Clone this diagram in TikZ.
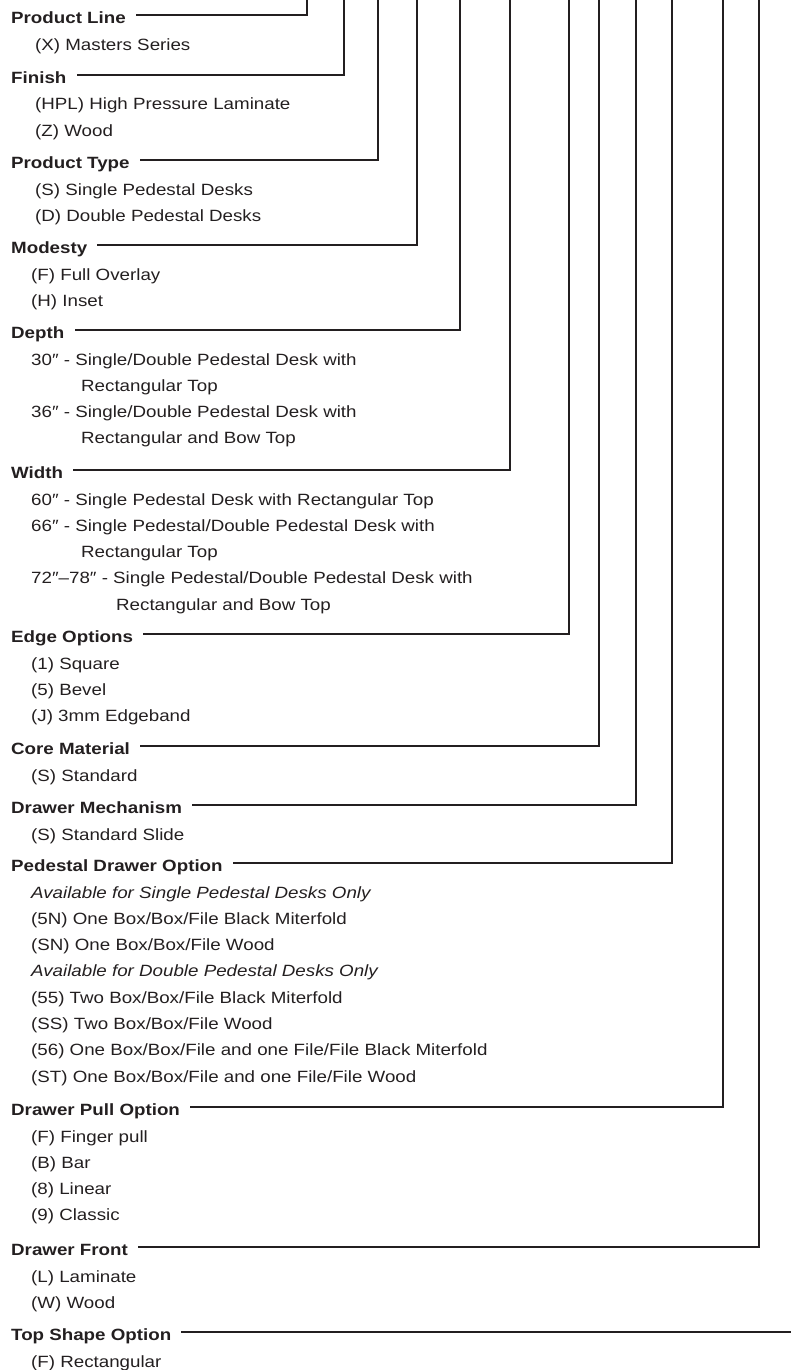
\documentclass[tikz,border=0pt]{standalone}
\usepackage{fontspec}
\setmainfont{Liberation Sans}[FakeStretch=1.15]
\usetikzlibrary{calc}
\definecolor{ink}{HTML}{231F20}
\tikzset{
  hdr/.style={anchor=base west, inner sep=0pt, font=\bfseries, text=ink},
  itm/.style={anchor=base west, inner sep=0pt, text=ink},
  note/.style={itm, font=\itshape},
  lead/.style={draw=ink, line width=2pt, line join=miter, line cap=rect},
}
\begin{document}
\begin{tikzpicture}[x=1pt,y=-1pt]
\fontsize{16.3}{20}\selectfont
\useasboundingbox (0,0) rectangle (791,1370);
% top ends of the leader lines
\coordinate (t1) at (307,-2);
\coordinate (t2) at (344,-2);
\coordinate (t3) at (378,-2);
\coordinate (t4) at (417,-2);
\coordinate (t5) at (460,-2);
\coordinate (t6) at (510,-2);
\coordinate (t7) at (569,-2);
\coordinate (t8) at (599,-2);
\coordinate (t9) at (636,-2);
\coordinate (t10) at (672,-2);
\coordinate (t11) at (723,-2);
\coordinate (t12) at (759,-2);
\coordinate (t13) at (795,1332);
% headers
\node[hdr] (h1) at (11,24) {Product Line};
\node[hdr] (h2) at (11,83.5) {Finish};
\node[hdr] (h3) at (11,168.5) {Product Type};
\node[hdr] (h4) at (11,253.5) {Modesty};
\node[hdr] (h5) at (11,338.5) {Depth};
\node[hdr] (h6) at (11,478.5) {Width};
\node[hdr] (h7) at (11,642.5) {Edge Options};
\node[hdr] (h8) at (11,754.5) {Core Material};
\node[hdr] (h9) at (11,813.5) {Drawer Mechanism};
\node[hdr] (h10) at (11,871.5) {Pedestal Drawer Option};
\node[hdr] (h11) at (11,1115.5) {Drawer Pull Option};
\node[hdr] (h12) at (11,1255.5) {Drawer Front};
\node[hdr] (h13) at (11,1340.5) {Top Shape Option};
% leaders
\foreach \i in {1,...,12}{
  \draw[lead] ($(h\i.base east)+(11,-8.5)$) -| (t\i);
}
\coordinate (s13) at ($(h13.base east)+(11,-8.5)$);
\draw[lead] (s13) -- (s13 -| t13);
% items
\node[itm] (a1) at (35,50.5) {(X) Masters Series};
\node[itm] (b1) at (35,110) {(HPL) High Pressure Laminate};
\node[itm] (b2) at (35,136.3) {(Z) Wood};
\node[itm] (c1) at (35,195) {(S) Single Pedestal Desks};
\node[itm] (c2) at (35,221.3) {(D) Double Pedestal Desks};
\node[itm] (d1) at (31,280) {(F) Full Overlay};
\node[itm] (d2) at (31,306.3) {(H) Inset};
\node[itm] (e1) at (31,365) {30″ - Single/Double Pedestal Desk with};
\node[itm] (e2) at (81,391.3) {Rectangular Top};
\node[itm] (e3) at (31,417.6) {36″ - Single/Double Pedestal Desk with};
\node[itm] (e4) at (81,443.9) {Rectangular and Bow Top};
\node[itm] (f1) at (31,505) {60″ - Single Pedestal Desk with Rectangular Top};
\node[itm] (f2) at (31,531.3) {66″ - Single Pedestal/Double Pedestal Desk with};
\node[itm] (f3) at (81,557.6) {Rectangular Top};
\node[itm] (f4) at (31,583.9) {72″–78″ - Single Pedestal/Double Pedestal Desk with};
\node[itm] (f5) at (116,610.2) {Rectangular and Bow Top};
\node[itm] (g1) at (31,669) {(1) Square};
\node[itm] (g2) at (31,695.3) {(5) Bevel};
\node[itm] (g3) at (31,721.6) {(J) 3mm Edgeband};
\node[itm] (k1) at (31,781) {(S) Standard};
\node[itm] (m1) at (31,840) {(S) Standard Slide};
\node[note] (n1) at (31,898) {Available for Single Pedestal Desks Only};
\node[itm] (n2) at (31,924.3) {(5N) One Box/Box/File Black Miterfold};
\node[itm] (n3) at (31,950.6) {(SN) One Box/Box/File Wood};
\node[note] (n4) at (31,976.9) {Available for Double Pedestal Desks Only};
\node[itm] (n5) at (31,1003.2) {(55) Two Box/Box/File Black Miterfold};
\node[itm] (n6) at (31,1029.5) {(SS) Two Box/Box/File Wood};
\node[itm] (n7) at (31,1055.8) {(56) One Box/Box/File and one File/File Black Miterfold};
\node[itm] (n8) at (31,1082.1) {(ST) One Box/Box/File and one File/File Wood};
\node[itm] (p1) at (31,1142) {(F) Finger pull};
\node[itm] (p2) at (31,1168.3) {(B) Bar};
\node[itm] (p3) at (31,1194.6) {(8) Linear};
\node[itm] (p4) at (31,1220.9) {(9) Classic};
\node[itm] (q1) at (31,1282) {(L) Laminate};
\node[itm] (q2) at (31,1308.3) {(W) Wood};
\node[itm] (r1) at (31,1367) {(F) Rectangular};
\end{tikzpicture}
\end{document}
